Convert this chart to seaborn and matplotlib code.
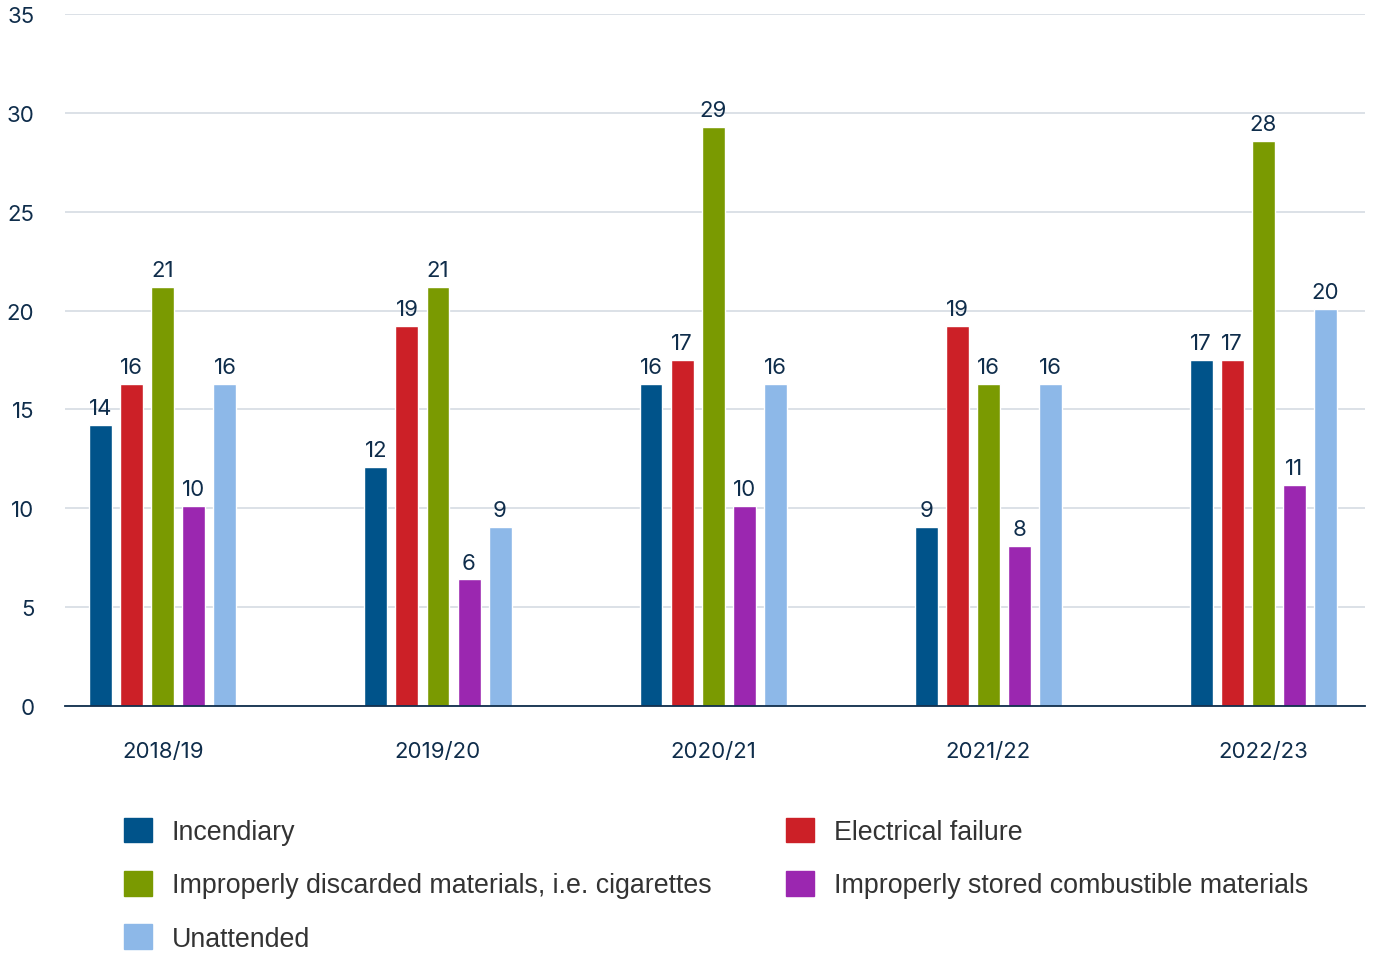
import math
import pandas as pd
import matplotlib.pyplot as plt
import seaborn as sns
from matplotlib.patches import Patch

# fire causes per season (percent)
seasons = ['2018/19', '2019/20', '2020/21', '2021/22', '2022/23']
causes = ['Incendiary', 'Electrical failure',
          'Improperly discarded materials, i.e. cigarettes',
          'Improperly stored combustible materials', 'Unattended']
incendiary = [14.2, 12.1, 16.3, 9.05, 17.5]
electrical = [16.3, 19.2, 17.5, 19.2, 17.5]
discarded = [21.2, 21.2, 29.3, 16.3, 28.6]
stored = [10.1, 6.4, 10.1, 8.1, 11.2]
unattended = [16.3, 9.05, 16.3, 16.3, 20.1]
colors = ['#00538A', '#CC2027', '#7A9A01', '#9B27B0', '#8DB8E8']

df = pd.DataFrame({
    'season': seasons * 5,
    'cause': sum([[c] * 5 for c in causes], []),
    'value': incendiary + electrical + discarded + stored + unattended,
})

sns.set_style('white')
plt.rcParams['font.family'] = ['Inter', 'DejaVu Sans']
text_col = '#0F2D4B'

fig = plt.figure(figsize=(13.74, 9.54), dpi=100)
ax = fig.add_axes([0.0473, 0.2589, 0.99345 - 0.0473, 0.9843 - 0.2589])

sns.barplot(data=df, x='season', y='value', hue='cause', hue_order=causes,
            palette=colors, width=0.564, gap=0.26, saturation=1,
            legend=False, ax=ax)

for cont in ax.containers:
    ax.bar_label(cont, fmt=lambda v: f'{math.floor(v)}', padding=5,
                 fontsize=16, color=text_col)

ax.set_ylim(0, 35)
ax.set_xlim(-0.356, 4.37)
ax.set_yticks(range(0, 36, 5))
ax.yaxis.grid(True, color='#D9DEE5', linewidth=1.3)
ax.set_axisbelow(True)
for s in ['top', 'right', 'left']:
    ax.spines[s].set_visible(False)
ax.spines['bottom'].set_color(text_col)
ax.spines['bottom'].set_linewidth(1.3)
ax.tick_params(axis='y', length=0, pad=22, labelsize=16, labelcolor=text_col)
ax.tick_params(axis='x', length=0, pad=25, labelsize=16, labelcolor=text_col)
ax.set_xlabel('')
ax.set_ylabel('')

# legend: two columns, filled column-wise
order = [0, 2, 4, 1, 3]
handles = [Patch(color=colors[i]) for i in order]
labels = [causes[i] for i in order]
fig.legend(handles, labels, loc='upper left', bbox_to_anchor=(0.0902, 0.142),
           bbox_transform=fig.transFigure, ncol=2, frameon=False,
           borderpad=0, borderaxespad=0, handlelength=1.05, handleheight=1.05,
           handletextpad=0.74, columnspacing=2.76, labelspacing=0.96,
           prop={'family': ['Liberation Sans'], 'size': 19.3}, labelcolor='#333333')

plt.savefig('out.png', dpi=100)
